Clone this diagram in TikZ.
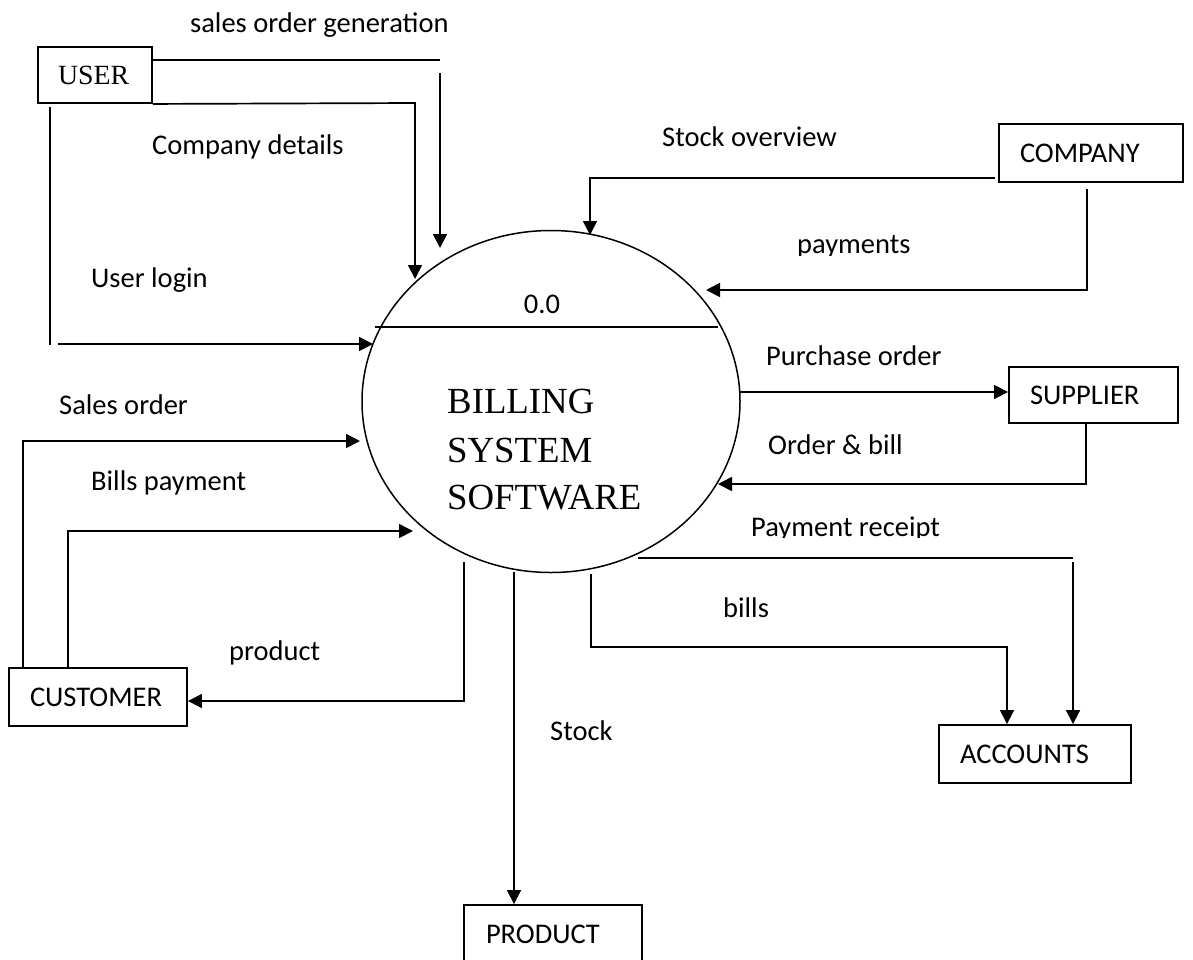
\documentclass[tikz,border=0pt]{standalone}
\usepackage{fontspec}
\setmainfont{Carlito}
\newfontfamily\tnr{Liberation Serif}
\usetikzlibrary{arrows.meta,shapes.geometric}
\begin{document}
\begin{tikzpicture}[x=1pt,y=-1pt,
  every node/.style={font=\fontsize{28.5}{34}\selectfont, inner sep=0pt},
  entity/.style={draw, line width=1.9pt, rectangle, align=left},
  wire/.style={line width=1.7pt},
  flow/.style={wire, -{Triangle[length=14pt,width=14pt]}},
  lbl/.style={anchor=base west},
  proc/.style={draw, ellipse, line width=1.5pt, minimum width=378pt, minimum height=342pt}
]
\useasboundingbox (0,0) rectangle (1193,959);
\clip (0,0) rectangle (1193,959);

% ---------- central process ----------
\node[proc] (bss) at (551,401.5) {};
\coordinate (divL) at (375,327);
\coordinate (divR) at (718,327);
\draw[line width=1.5pt] (divL) -- (divR);
\node[anchor=base] (pid) at (542,313) {0.0};
\node[lbl, font=\tnr\fontsize{36.8}{48}\selectfont] (t1) at (447,413) {BILLING};
\node[lbl, font=\tnr\fontsize{36.8}{48}\selectfont] (t2) at (447,462) {SYSTEM};
\node[lbl, font=\tnr\fontsize{36.8}{48}\selectfont] (t3) at (447,509) {SOFTWARE};

% ---------- external entities ----------
\node[entity, font=\tnr\fontsize{27.8}{33}\selectfont, minimum width=114pt, minimum height=56pt, text width=74pt] (user) at (95,75) {USER};
\node[entity, minimum width=184pt, minimum height=58pt, text width=142pt] (company) at (1091,153) {COMPANY};
\node[entity, minimum width=169pt, minimum height=56pt, text width=127pt] (supplier) at (1093.5,395) {SUPPLIER};
\node[entity, minimum width=192pt, minimum height=58pt, text width=150pt] (accounts) at (1035,754) {ACCOUNTS};
\node[entity, minimum width=178pt, minimum height=58pt, text width=134pt] (product) at (553,934) {PRODUCT};
\node[entity, minimum width=178pt, minimum height=58pt, text width=136pt] (customer) at (98,697) {CUSTOMER};

% ---------- flow end points ----------
\coordinate (sogA) at (152,60);   \coordinate (sogB) at (440,60);
\coordinate (sogC) at (440,73);   \coordinate (sogTip) at (440,248);
\coordinate (cdBend) at (415,103); \coordinate (cdTip) at (415,279);
\coordinate (ulTop) at (50,107);  \coordinate (ulBot) at (50,345);
\coordinate (ulStart) at (58,344); \coordinate (ulTip) at (373,344);
\coordinate (soStart) at (995,178); \coordinate (soBend) at (590,178);
\coordinate (soTip) at (590,235);
\coordinate (payTop) at (1087,189); \coordinate (payBend) at (1087,290);
\coordinate (payTip) at (706,290);
\coordinate (poStart) at (740,392);
\coordinate (obTop) at (1086,423); \coordinate (obBend) at (1086,484);
\coordinate (obTip) at (718,484);
\coordinate (prStart) at (638,558); \coordinate (prEnd) at (1073,558);
\coordinate (prTop) at (1073,562);
\coordinate (blStart) at (591,574); \coordinate (blBend1) at (591,647);
\coordinate (blBend2) at (1007,647);
\coordinate (stStart) at (514,572);
\coordinate (soBase) at (23,668); \coordinate (soTurn) at (23,441);
\coordinate (soEnd) at (360,441);
\coordinate (bpBase) at (68,668); \coordinate (bpTurn) at (68,531);
\coordinate (bpEnd) at (413,531);
\coordinate (pdStart) at (464,562); \coordinate (pdBend) at (464,701);

% ---------- flows ----------
\draw[wire] (sogA) -- (sogB);
\draw[flow] (sogC) -- (sogTip);
\draw[flow] (user.south east) -- (cdBend) -- (cdTip);
\draw[wire] (ulTop) -- (ulBot);
\draw[flow] (ulStart) -- (ulTip);
\draw[flow] (soStart) -- (soBend) -- (soTip);
\draw[flow] (payTop) -- (payBend) -- (payTip);
\draw[flow] (poStart) -- (poStart -| supplier.west);
\draw[flow] (obTop) -- (obBend) -- (obTip);
\draw[wire] (prStart) -- (prEnd);
\draw[flow] (prTop) -- (prTop |- accounts.north);
\draw[flow] (blStart) -- (blBend1) -- (blBend2) -- (blBend2 |- accounts.north);
\draw[flow] (stStart) -- (stStart |- product.north);
\draw[flow] (soBase) -- (soTurn) -- (soEnd);
\draw[flow] (bpBase) -- (bpTurn) -- (bpEnd);
\draw[flow] (pdStart) -- (pdBend) -- (pdBend -| customer.east);

% ---------- flow labels ----------
\node[lbl] (lsog) at (190,32) {sales order generation};
\node[lbl] (lcd) at (152,154) {Company details};
\node[lbl] (lul) at (91,287) {User login};
\node[lbl] (lso) at (662,146) {Stock overview};
\begin{scope}
  \clip (780,220) rectangle (940,255);
  \node[lbl] (lpay) at (797,253) {payments};
\end{scope}
\node[lbl] (lpo) at (766,365) {Purchase order};
\node[lbl] (lob) at (768,454) {Order \& bill};
\begin{scope}
  \clip (740,500) rectangle (960,537);
  \node[lbl] (lpr) at (751,536) {Payment receipt};
\end{scope}
\node[lbl] (lbills) at (723,617) {bills};
\node[lbl] (lst) at (550,740) {Stock};
\node[lbl] (lsaleso) at (59,414) {Sales order};
\node[lbl] (lbp) at (91,490) {Bills payment};
\node[lbl] (lprod) at (229,660) {product};
\end{tikzpicture}
\end{document}
